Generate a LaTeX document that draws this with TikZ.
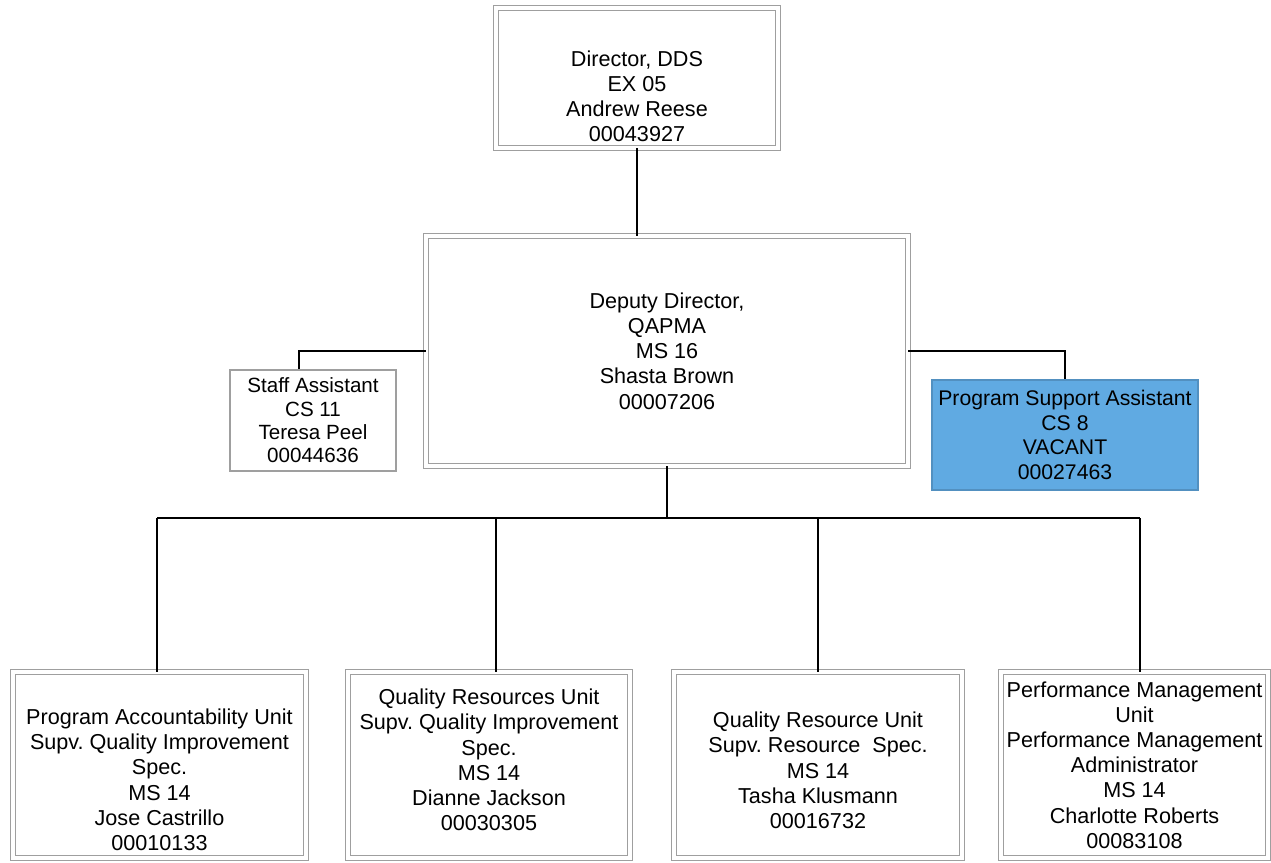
\documentclass[tikz,border=0pt]{standalone}
\usepackage{fontspec}
\setmainfont{Liberation Sans}
\usepackage{xcolor}
\usepackage{tikz}
\usetikzlibrary{positioning}
\definecolor{vacantblue}{RGB}{96,170,226}
\frenchspacing
\tikzset{
  post/.style={draw=gray!75, line width=0.45pt, double=white, double distance=2pt,
    align=center, inner sep=2pt, font=\fontsize{10.8}{12.6}\selectfont},
  single/.style={draw=gray!75, line width=0.6pt,
    align=center, inner sep=2pt, font=\fontsize{10.3}{11.7}\selectfont},
  link/.style={black, line width=1pt}
}
\begin{document}
\begin{tikzpicture}[x=0.5pt,y=-0.5pt]
            \useasboundingbox (0,0) rectangle (1271,863);
            \node[post, minimum width=141pt, minimum height=70pt] (director) at (637,78)
                {\mbox{}\\[13.5pt]Director, DDS\\EX 05\\Andrew Reese\\00043927};
            \node[post, minimum width=241pt, minimum height=115pt] (deputy) at (667,351)
                {Deputy Director,\\QAPMA\\MS 16\\Shasta Brown\\00007206};
            \node[single, minimum width=83pt, minimum height=50.5pt] (staff) at (313,420.5)
                {Staff Assistant\\CS 11\\Teresa Peel\\00044636};
            \node[single, fill=vacantblue, draw=vacantblue!85!black, minimum width=133pt, minimum height=55pt,
                font=\fontsize{10.6}{12.2}\selectfont] (psa) at (1065,435)
                {Program Support Assistant\\CS 8\\VACANT\\00027463};
            \node[post, minimum width=146.5pt, minimum height=93pt] (pau) at (159.5,765)
                {\mbox{}\\[10pt]Program Accountability Unit\\Supv. Quality Improvement\\Spec.\\MS 14\\Jose Castrillo\\00010133};
            \node[post, minimum width=141pt, minimum height=93pt] (qrs) at (489,765)
                {Quality Resources Unit\\Supv. Quality Improvement\\Spec.\\MS 14\\Dianne Jackson\\00030305\\[-7.5pt]\mbox{}};
            \node[post, minimum width=144pt, minimum height=93pt] (qru) at (818,765)
                {\mbox{}\\[0.5pt]Quality Resource Unit\\Supv. Resource\ \ Spec.\\MS 14\\Tasha Klusmann\\00016732};
            \node[post, minimum width=133.5pt, minimum height=93pt] (pmu) at (1134.5,765)
                {Performance Management\\Unit\\Performance Management\\Administrator\\MS 14\\Charlotte Roberts\\00083108};
            \coordinate (bus) at (667,518);
            \draw[link] (director.south) -- (director.south |- deputy.north);
            \draw[link] (deputy.south) -- (bus);
            \draw[link] (deputy.west) -| ([xshift=-7pt]staff.north);
            \draw[link] (deputy.east) -| (psa.north);
            \draw[link] (bus -| 157,0) -- (bus -| 1140,0);
            \foreach \x/\n in {157/pau, 496/qrs, 818/qru, 1140/pmu}
            \draw[link] (bus -| \x,0) -- (\n.north -| \x,0);
        \end{tikzpicture}
\end{document}
